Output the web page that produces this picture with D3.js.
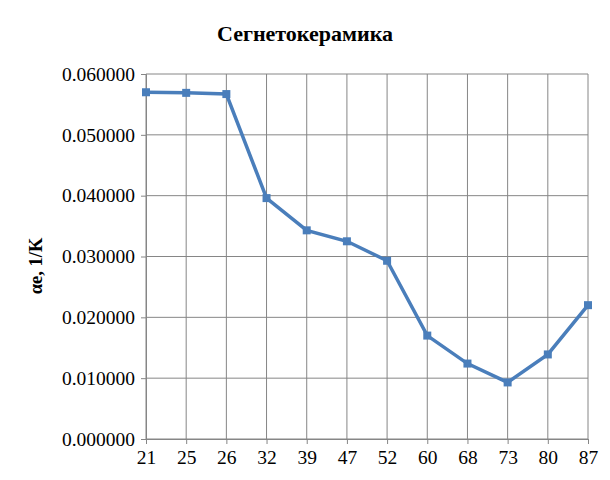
<!DOCTYPE html>
<html>
<head>
<meta charset="utf-8">
<script src="https://cdn.jsdelivr.net/npm/d3@7"></script>
<style>
  body { margin: 0; background: #fff; }
  text { font-family: "Liberation Serif", "DejaVu Serif", serif; }
</style>
</head>
<body>
<svg id="chart" width="610" height="480"></svg>
<script>
var categories = ["21", "25", "26", "32", "39", "47", "52", "60", "68", "73", "80", "87"];
var values = [0.0570, 0.0569, 0.0567, 0.0396, 0.0343, 0.0325, 0.0293, 0.0170, 0.0124, 0.0093, 0.0139, 0.0220];
var yTicks = [0, 0.01, 0.02, 0.03, 0.04, 0.05, 0.06];

var svg = d3.select("#chart");
var plotLeft = 146, plotRight = 588, plotTop = 74, plotBottom = 439;

var x = d3.scalePoint().domain(categories).range([plotLeft, plotRight]);
var y = d3.scaleLinear().domain([0, 0.06]).range([plotBottom, plotTop]);

// title
svg.append("text")
   .attr("x", 305)
   .attr("y", 41)
   .attr("text-anchor", "middle")
   .attr("font-size", "22px")
   .attr("font-weight", "bold")
   .text("Сегнетокерамика");

// y axis label
svg.append("text")
   .attr("transform", "translate(42,266) rotate(-90)")
   .attr("text-anchor", "middle")
   .attr("font-size", "18.5px")
   .attr("font-weight", "bold")
   .text("αe, 1/K");

// horizontal gridlines
svg.append("g").selectAll("line")
   .data(yTicks)
   .enter().append("line")
   .attr("x1", plotLeft).attr("x2", plotRight)
   .attr("y1", function(d) { return y(d); })
   .attr("y2", function(d) { return y(d); })
   .style("stroke", "#868686").style("stroke-width", 1);

// vertical gridlines (on the categories)
svg.append("g").selectAll("line")
   .data(categories)
   .enter().append("line")
   .attr("x1", function(d) { return x(d); })
   .attr("x2", function(d) { return x(d); })
   .attr("y1", plotTop).attr("y2", plotBottom)
   .style("stroke", "#868686").style("stroke-width", 1);

var yAxis = svg.append("g")
   .attr("transform", "translate(" + plotLeft + ",0)")
   .call(d3.axisLeft(y).tickValues(yTicks).tickFormat(d3.format(".6f")).tickSize(5).tickPadding(6));

var xAxis = svg.append("g")
   .attr("transform", "translate(0," + plotBottom + ")")
   .call(d3.axisBottom(x).tickSize(5).tickPadding(6));

[yAxis, xAxis].forEach(function(a) {
    a.attr("font-size", null).attr("font-family", null);
    a.select(".domain").attr("stroke", "#868686");
    a.selectAll(".tick line").attr("stroke", "#868686");
    a.selectAll(".tick text")
     .attr("fill", "#000")
     .style("font-size", "19.5px");
});

var line = d3.line()
   .x(function(d, i) { return x(categories[i]); })
   .y(function(d) { return y(d); });

svg.append("path")
   .datum(values)
   .attr("d", line)
   .attr("fill", "none")
   .attr("stroke", "#4a7ebb")
   .attr("stroke-width", 3.5);

svg.append("g").selectAll("rect")
   .data(values)
   .enter().append("rect")
   .attr("x", function(d, i) { return x(categories[i]) - 4; })
   .attr("y", function(d) { return y(d) - 4; })
   .attr("width", 8)
   .attr("height", 8)
   .attr("fill", "#4a7ebb");
</script>
</body>
</html>
